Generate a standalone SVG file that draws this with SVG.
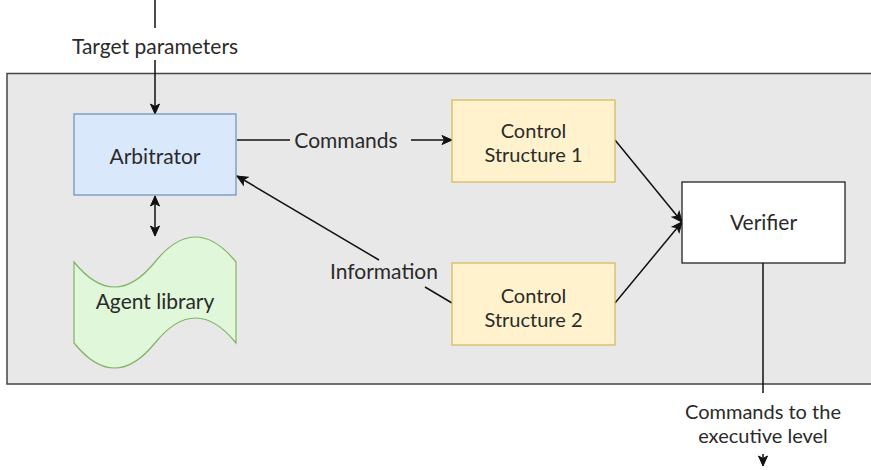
<svg xmlns="http://www.w3.org/2000/svg" width="871" height="470" viewBox="0 0 871 470">
<style>
text{font-family:Lato,"Liberation Sans",sans-serif;font-size:21px;fill:#2a2a2a;text-anchor:middle;dominant-baseline:central}
text.m{font-size:20px}
.c{stroke:#111;stroke-width:1.5;fill:none}
</style>
<defs>
<marker id="ah" markerUnits="userSpaceOnUse" markerWidth="12" markerHeight="12" viewBox="0 0 12 12" refX="11" refY="6" orient="auto-start-reverse">
<path d="M1,1.5 L11,6 L1,10.5 L3.5,6 z" fill="#111" stroke="#111" stroke-width="1"/>
</marker>
</defs>
<rect id="container" x="7" y="73.5" width="870" height="310.5" fill="#e8e8e8" stroke="#444" stroke-width="1.5"/>
<g id="connectors">
<line class="c" x1="155" y1="0" x2="155" y2="28"/>
<line class="c" x1="155" y1="60" x2="155" y2="114" marker-end="url(#ah)"/>
<line class="c" x1="237" y1="140" x2="290" y2="140"/>
<line class="c" x1="411" y1="140" x2="452" y2="140" marker-end="url(#ah)"/>
<line class="c" x1="155" y1="196" x2="155" y2="236" marker-start="url(#ah)" marker-end="url(#ah)"/>
<line class="c" x1="452" y1="303" x2="425" y2="287"/>
<line class="c" x1="379" y1="260" x2="237" y2="176" marker-end="url(#ah)"/>
<line class="c" x1="615" y1="140" x2="682" y2="222" marker-end="url(#ah)"/>
<line class="c" x1="615" y1="303" x2="682" y2="222" marker-end="url(#ah)"/>
<line class="c" x1="763" y1="263" x2="763" y2="393"/>
<line class="c" x1="763" y1="454" x2="763" y2="466" marker-end="url(#ah)"/>
<text x="155" y="45">Target parameters</text>
<text x="346" y="139">Commands</text>
<text x="384" y="270">Information</text>
<text class="m" x="763" y="411">Commands to the</text>
<text class="m" x="763" y="435">executive level</text>
</g>
<g id="arbitrator">
<rect x="74" y="114" width="162" height="81" fill="#dae8fc" stroke="#6c8ebf" stroke-width="1.2"/>
<text x="155" y="155">Arbitrator</text>
</g>
<g id="agent-library">
<path d="M74,262 Q114.5,312 155,262 Q195.5,212 236,262 L236,343 Q195.5,293 155,343 Q114.5,393 74,343 Z" fill="#e0f7d9" stroke="#82b366" stroke-width="1.2"/>
<text x="155" y="300">Agent library</text>
</g>
<g id="cs1">
<rect x="452" y="100" width="163" height="82" fill="#fff2cc" stroke="#d6b656" stroke-width="1.2"/>
<text class="m" x="533.5" y="130">Control</text>
<text class="m" x="533.5" y="154">Structure 1</text>
</g>
<g id="cs2">
<rect x="452" y="263" width="163" height="82" fill="#fff2cc" stroke="#d6b656" stroke-width="1.2"/>
<text class="m" x="533.5" y="295">Control</text>
<text class="m" x="533.5" y="319">Structure 2</text>
</g>
<g id="verifier">
<rect x="682" y="182" width="163" height="81" fill="#ffffff" stroke="#111" stroke-width="1.2"/>
<text x="763.5" y="221">Verifier</text>
</g>
</svg>
